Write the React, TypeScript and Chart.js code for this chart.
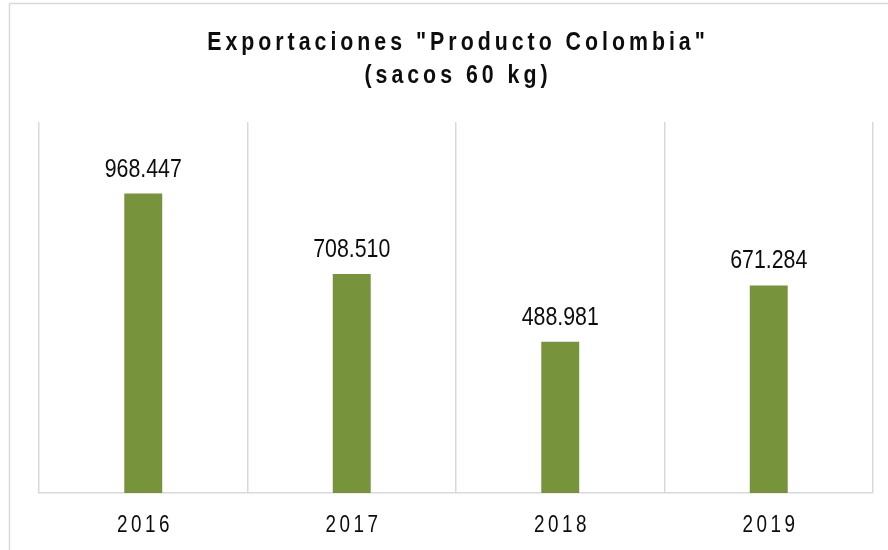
import React, { useEffect, useRef } from "react";
import { Chart, registerables } from "chart.js";

Chart.register(...registerables);

const categories = ["2016", "2017", "2018", "2019"];
const exportValues = [968447, 708510, 488981, 671284];
const valueLabels = ["968.447", "708.510", "488.981", "671.284"];
const titleLines = ['Exportaciones "Producto Colombia"', "(sacos 60 kg)"];

const FONT = '"Liberation Sans", Arial, sans-serif';
const NARROW = 0.82;

function drawNarrow(ctx: CanvasRenderingContext2D, text: string, x: number, y: number, font: string, spacing: number) {
  ctx.save();
  ctx.translate(x, y);
  ctx.scale(NARROW, 1);
  ctx.font = font;
  const sp = spacing / NARROW;
  (ctx as any).letterSpacing = `${sp}px`;
  ctx.textAlign = "center";
  ctx.textBaseline = "alphabetic";
  ctx.fillText(text, sp / 2, 0);
  ctx.restore();
}

export default function App() {
  const ref = useRef<HTMLCanvasElement | null>(null);

  useEffect(() => {
    const canvas = ref.current;
    if (!canvas) return;

    const framePlugin = {
      id: "frameAndTitle",
      beforeDraw(chart: any) {
        const ctx = chart.ctx as CanvasRenderingContext2D;
        ctx.save();
        ctx.fillStyle = "#ffffff";
        ctx.fillRect(0, 0, chart.width, chart.height);
        ctx.strokeStyle = "#d9d9d9";
        ctx.lineWidth = 1.5;
        ctx.strokeRect(9.5, 3.5, 1000, 700);
        ctx.fillStyle = "#0d0d0d";
        const cx = (chart.chartArea.left + chart.chartArea.right) / 2;
        drawNarrow(ctx, titleLines[0], cx, 50, `bold 26px ${FONT}`, 4);
        drawNarrow(ctx, titleLines[1], cx, 83, `bold 26px ${FONT}`, 4);
        ctx.restore();
      },
      afterDatasetsDraw(chart: any) {
        const ctx = chart.ctx as CanvasRenderingContext2D;
        ctx.save();
        ctx.fillStyle = "#0d0d0d";
        const meta = chart.getDatasetMeta(0);
        meta.data.forEach((bar: any, i: number) => {
          drawNarrow(ctx, valueLabels[i], bar.x, bar.y - 17, `26px ${FONT}`, 0);
        });
        const xs = chart.scales.x;
        categories.forEach((c, i) => {
          drawNarrow(ctx, c, xs.getPixelForValue(i), 532, `23px ${FONT}`, 3.5);
        });
        ctx.restore();
      },
    };

    const chart = new Chart(canvas, {
      type: "bar",
      data: {
        labels: categories,
        datasets: [
          {
            label: "Exportaciones",
            data: exportValues,
            backgroundColor: "#77933C",
            borderWidth: 0,
            barPercentage: 0.182,
            categoryPercentage: 1,
          },
        ],
      },
      options: {
        responsive: false,
        animation: false,
        devicePixelRatio: 1,
        layout: { padding: { left: 39, right: 15, top: 122, bottom: 0 } },
        plugins: {
          legend: { display: false },
          title: { display: false },
          tooltip: { enabled: false },
        },
        scales: {
          x: {
            afterFit: (s: any) => {
              s.height = 57;
            },
            grid: {
              display: true,
              offset: true,
              color: "#d9d9d9",
              lineWidth: 1.5,
              drawTicks: false,
            },
            border: { display: true, color: "#d9d9d9", width: 1.5 },
            ticks: { display: false },
          },
          y: {
            display: false,
            min: 0,
            max: 1200000,
          },
        },
      },
      plugins: [framePlugin],
    });

    return () => chart.destroy();
  }, []);

  return (
    <div style={{ position: "absolute", left: 0, top: 0, width: 888, height: 550, background: "#fff" }}>
      <canvas ref={ref} width={888} height={550} style={{ width: 888, height: 550, display: "block" }} />
    </div>
  );
}
